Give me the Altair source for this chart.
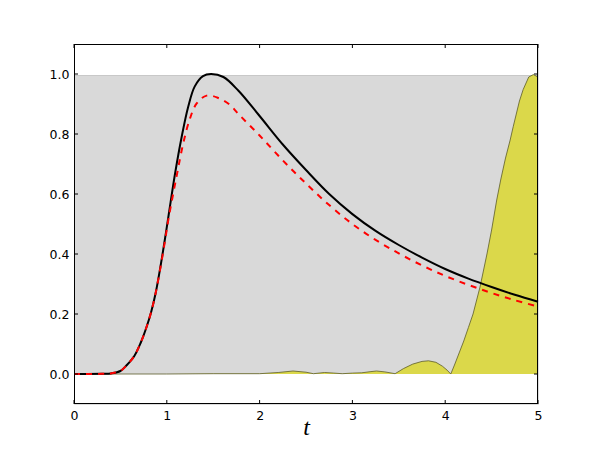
import altair as alt
import pandas as pd

# black solid curve
t_black = [0.0, 0.3, 0.4, 0.5, 0.57, 0.65, 0.72, 0.78, 0.83, 0.88, 0.93, 0.98, 1.02, 1.09,
           1.16, 1.23, 1.30, 1.39, 1.476, 1.61, 1.77, 2.0, 2.25, 2.5, 2.75, 3.0, 3.25, 3.5,
           3.75, 4.0, 4.25, 4.5, 4.75, 5.0]
v_black = [0.0, 0.0005, 0.002, 0.01, 0.03, 0.06, 0.105, 0.155, 0.205, 0.27, 0.355, 0.45, 0.53, 0.67,
           0.79, 0.89, 0.958, 0.993, 1.0, 0.99, 0.945, 0.86, 0.765, 0.68, 0.60, 0.533, 0.477, 0.43,
           0.388, 0.35, 0.318, 0.29, 0.264, 0.241]

# red dashed curve
t_red = [0.0, 0.3, 0.4, 0.5, 0.57, 0.65, 0.72, 0.78, 0.83, 0.88, 0.93, 0.98, 1.02, 1.106,
         1.178, 1.25, 1.322, 1.43, 1.555, 1.681, 1.771, 2.0, 2.25, 2.5, 2.75, 3.0, 3.25, 3.5,
         3.75, 4.0, 4.25, 4.5, 4.75, 5.0]
v_red = [0.0, 0.0005, 0.002, 0.01, 0.03, 0.06, 0.105, 0.155, 0.205, 0.27, 0.352, 0.443, 0.52, 0.66,
         0.77, 0.852, 0.902, 0.928, 0.92, 0.897, 0.867, 0.795, 0.712, 0.635, 0.563, 0.50, 0.447, 0.402,
         0.362, 0.327, 0.297, 0.27, 0.246, 0.225]

# yellow filled curve
t_yel = [0.0, 1.0, 1.5, 2.0, 2.2, 2.36, 2.5, 2.58, 2.7, 2.8, 2.89, 3.0, 3.1, 3.2, 3.26, 3.35,
         3.46, 3.55, 3.65, 3.75, 3.82, 3.9, 3.97, 4.02, 4.06, 4.1, 4.15, 4.2, 4.25, 4.3, 4.375,
         4.45, 4.5, 4.555, 4.6, 4.65, 4.7, 4.734, 4.8, 4.84, 4.9, 4.95, 5.0]
v_yel = [0.0, 0.0, 0.001, 0.001, 0.005, 0.01, 0.006, 0.001, 0.005, 0.003, 0.001, 0.003, 0.004,
         0.008, 0.01, 0.007, 0.001, 0.018, 0.033, 0.042, 0.044, 0.039, 0.026, 0.013, 0.0, 0.03,
         0.07, 0.11, 0.155, 0.2, 0.29, 0.40, 0.48, 0.58, 0.65, 0.72, 0.78, 0.826, 0.91, 0.948,
         0.99, 0.998, 0.99]

# grey band
t_band = [0.0, 5.0]
band_lo = [0.0, 0.0]
band_hi = [0.995, 0.995]

x_ticks = [0, 1, 2, 3, 4, 5]
y_ticks = [0.0, 0.2, 0.4, 0.6, 0.8, 1.0]

W, H = 464, 360

xs = alt.Scale(domain=[0, 5], nice=False, zero=False)
ys = alt.Scale(domain=[-0.1, 1.1], nice=False, zero=False)

xaxis = alt.Axis(values=x_ticks, format="d", ticks=False, domain=False, grid=False,
                 labelFont="DejaVu Sans", labelFontSize=12.5, labelColor="black",
                 labelPadding=5, labelFlush=False, title="t", titleFont="Liberation Serif",
                 titleFontStyle="italic", titleFontWeight="normal", titleFontSize=24,
                 titleColor="black", titleBaseline="bottom", titlePadding=17.5)
yaxis = alt.Axis(values=y_ticks, format=".1f", ticks=False, domain=False, grid=False,
                 labelFont="DejaVu Sans", labelFontSize=12.5, labelColor="black",
                 labelPadding=5, labelFlush=False, title=None)

band_df = pd.DataFrame({"t": t_band, "lo": band_lo, "hi": band_hi})
black_df = pd.DataFrame({"t": t_black, "v": v_black})
red_df = pd.DataFrame({"t": t_red, "v": v_red})
yel_df = pd.DataFrame({"t": t_yel, "v": v_yel})


def X(f="t:Q"):
    return alt.X(f, scale=xs, axis=xaxis)


def Y(f="v:Q"):
    return alt.Y(f, scale=ys, axis=yaxis)


band = alt.Chart(band_df).mark_area(color="#d9d9d9", opacity=1).encode(
    x=X(), y=Y("lo:Q"), y2="hi:Q",
)
band_edge = alt.Chart(band_df).mark_line(color="#c8c8c8", strokeWidth=1).encode(
    x=X(), y=Y("hi:Q")
)

yel = alt.Chart(yel_df).mark_area(color="#dbd84a", opacity=1,
                                  line={"color": "#5c5c28", "strokeWidth": 0.8}).encode(
    x=X(), y=Y()
)

black = alt.Chart(black_df).mark_line(color="black", strokeWidth=2, interpolate="catmull-rom").encode(
    x=X(), y=Y()
)
red = alt.Chart(red_df).mark_line(color="red", strokeWidth=2, strokeDash=[6, 6],
                                  interpolate="catmull-rom").encode(
    x=X(), y=Y()
)

xt_df = pd.DataFrame({"t": x_ticks})
yt_df = pd.DataFrame({"v": y_ticks})
tick_style = dict(color="black", strokeWidth=1)
xt_bot = alt.Chart(xt_df).mark_rule(**tick_style).encode(
    x=X(), y=alt.value(H), y2=alt.value(H - 4))
xt_top = alt.Chart(xt_df).mark_rule(**tick_style).encode(
    x=X(), y=alt.value(0), y2=alt.value(4))
yt_left = alt.Chart(yt_df).mark_rule(**tick_style).encode(
    y=Y(), x=alt.value(0), x2=alt.value(4))
yt_right = alt.Chart(yt_df).mark_rule(**tick_style).encode(
    y=Y(), x=alt.value(W), x2=alt.value(W - 4))

# plot frame (crisp 1px box)
frame_style = dict(color="black", strokeWidth=1)
fr_left = alt.Chart(xt_df).mark_rule(**frame_style).encode(
    x=alt.value(0.5), y=alt.value(0), y2=alt.value(H))
fr_right = alt.Chart(xt_df).mark_rule(**frame_style).encode(
    x=alt.value(W - 0.5), y=alt.value(0), y2=alt.value(H))
fr_top = alt.Chart(xt_df).mark_rule(**frame_style).encode(
    y=alt.value(0.5), x=alt.value(0), x2=alt.value(W))
fr_bot = alt.Chart(xt_df).mark_rule(**frame_style).encode(
    y=alt.value(H - 0.5), x=alt.value(0), x2=alt.value(W))

chart = alt.layer(band, band_edge, yel, black, red, xt_bot, xt_top, yt_left, yt_right,
                  fr_left, fr_right, fr_top, fr_bot).properties(
    width=W, height=H,
    autosize=alt.AutoSizeParams(type="none"),
    padding={"left": 66, "top": 36, "right": 52, "bottom": 37},
).configure_view(strokeOpacity=0).configure(background="white")

chart.save("out.html", embed_options={"renderer": "svg", "actions": False})
